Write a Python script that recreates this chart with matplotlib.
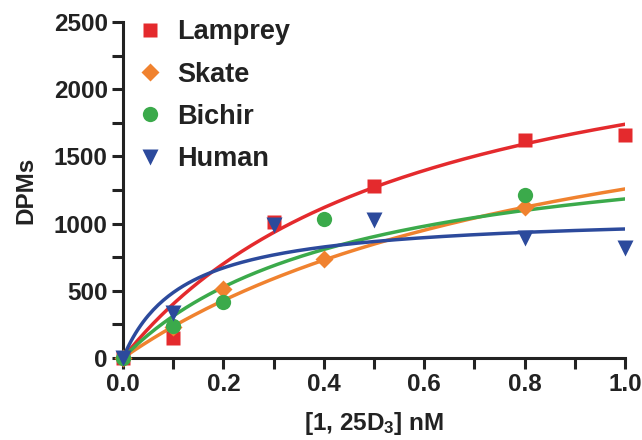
import numpy as np
import matplotlib.pyplot as plt
from matplotlib.ticker import MultipleLocator

plt.rcParams['font.family'] = ['Liberation Sans', 'DejaVu Sans']
plt.rcParams['font.weight'] = 'bold'
plt.rcParams['mathtext.fontset'] = 'custom'
plt.rcParams['mathtext.rm'] = 'Liberation Sans:bold'
plt.rcParams['mathtext.bf'] = 'Liberation Sans:bold'
plt.rcParams['mathtext.it'] = 'Liberation Sans:bold'

# measured points (nM, DPMs)
lamprey_x = [0.0, 0.1, 0.3, 0.5, 0.8, 1.0]
lamprey_y = [0, 150, 1010, 1280, 1620, 1660]
skate_x = [0.0, 0.1, 0.2, 0.4, 0.8]
skate_y = [0, 230, 510, 735, 1125]
bichir_x = [0.0, 0.1, 0.2, 0.4, 0.8]
bichir_y = [0, 235, 420, 1035, 1210]
human_x = [0.0, 0.1, 0.3, 0.5, 0.8, 1.0]
human_y = [0, 335, 990, 1025, 890, 820]

# one-site binding fits: Bmax*x/(Kd+x)
bmax = [2760, 2440, 1716, 1076]
kd = [0.587, 0.94, 0.45, 0.121]

names = ['Lamprey', 'Skate', 'Bichir', 'Human']
colors = ['#E42A2D', '#F0822F', '#3BAA4B', '#2C4A9C']
markers = ['s', 'D', 'o', 'v']
msizes = [10, 9, 11, 11]

fig = plt.figure(figsize=(6.42, 4.4), dpi=100)
ax = fig.add_axes([0.1916, 0.1864, 0.7819, 0.7636])

xs = np.linspace(0, 1.0, 200)
for b, k, c in zip(bmax, kd, colors):
    ax.plot(xs, b * xs / (k + xs), color=c, lw=2.5, zorder=2)

data = [(lamprey_x, lamprey_y), (skate_x, skate_y), (bichir_x, bichir_y), (human_x, human_y)]
for (dx, dy), n, c, m, s in zip(data, names, colors, markers, msizes):
    ax.plot(dx, dy, ls='none', marker=m, ms=s, color=c, mec='none', label=n,
            clip_on=False, zorder=3)

ax.set_xlim(0, 1.0)
ax.set_ylim(0, 2500)
ax.xaxis.set_major_locator(MultipleLocator(0.2))
ax.xaxis.set_minor_locator(MultipleLocator(0.1))
ax.yaxis.set_major_locator(MultipleLocator(500))
ax.yaxis.set_minor_locator(MultipleLocator(250))
ax.xaxis.set_major_formatter(plt.FuncFormatter(lambda v, p: f'{v:.1f}'))

for sp in ['top', 'right']:
    ax.spines[sp].set_visible(False)
for sp in ['left', 'bottom']:
    ax.spines[sp].set_linewidth(2.2)
    ax.spines[sp].set_color('#222222')
ax.tick_params(which='major', length=8, width=2.2, color='#222222', labelsize=17.5, pad=3)
ax.tick_params(which='minor', length=8, width=2.2, color='#222222')
for lab in ax.get_xticklabels() + ax.get_yticklabels():
    lab.set_fontweight('bold')
    lab.set_color('#222222')

ax.set_ylabel('DPMs', fontsize=17.5, fontweight='bold', color='#222222', labelpad=12)
ax.set_xlabel(r'[1, 25D$_3$] nM', fontsize=17.5, fontweight='bold', color='#222222', labelpad=10)

leg = ax.legend(loc='upper left', frameon=False, fontsize=19.5, handletextpad=0.4,
                labelspacing=0.6, borderaxespad=0.0, bbox_to_anchor=(0.0, 1.04),
                handlelength=1.2)
for t in leg.get_texts():
    t.set_fontweight('bold')
    t.set_color('#222222')

fig.savefig('out.png', dpi=100)
